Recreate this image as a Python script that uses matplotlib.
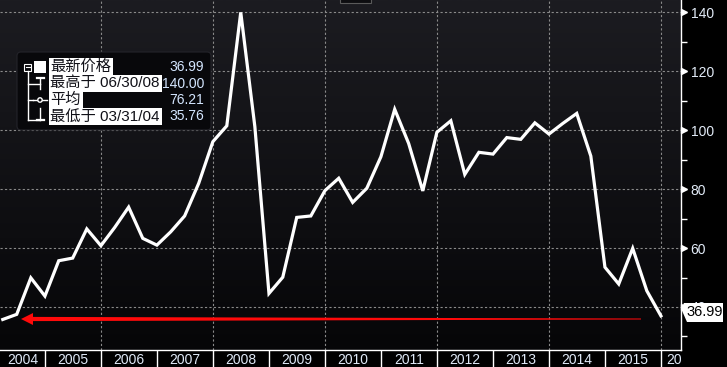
import numpy as np
import pandas as pd
import matplotlib
matplotlib.use("Agg")
import matplotlib.pyplot as plt
import matplotlib.dates as mdates
from matplotlib.colors import LinearSegmentedColormap
from matplotlib.patches import Polygon, Rectangle, FancyBboxPatch, Circle
from matplotlib.transforms import blended_transform_factory

plt.rcParams['font.family'] = ['Liberation Sans', 'Noto Sans CJK SC', 'DejaVu Sans']

# quarterly closes, Q1 2004 .. Q4 2015
quarters = pd.date_range("2004-03-31", periods=48, freq="QE")
prices = [35.76, 37.5, 49.9, 43.7,
          55.7, 56.6, 66.5, 60.8,
          67.0, 73.9, 63.3, 61.0,
          65.5, 70.9, 82.0, 96.1,
          101.5, 140.0, 101.2, 44.6,
          50.1, 70.4, 70.9, 79.5,
          83.7, 75.5, 80.3, 91.0,
          107.1, 95.5, 79.4, 99.3,
          103.2, 85.0, 92.5, 91.9,
          97.5, 96.9, 102.5, 98.7,
          102.3, 105.7, 91.2, 53.5,
          47.8, 59.9, 45.5, 36.99]

y_major = [40, 60, 80, 100, 120, 140]
y_minor = [30, 50, 70, 90, 110, 130]
years = list(range(2004, 2017))
grid_years = [2006, 2008, 2010, 2012, 2014, 2016]

legend_labels = ["最新价格", "最高于 06/30/08", "平均", "最低于 03/31/04"]
legend_values = ["36.99", "140.00", "76.21", "35.76"]
last_label = "36.99"

W, H = 727, 367
fig = plt.figure(figsize=(W / 100, H / 100), dpi=100, facecolor='black')
ax = fig.add_axes([0, 17 / H, 681 / W, 350 / H])

x0 = mdates.date2num(pd.Timestamp("2004-03-13"))
x1 = mdates.date2num(pd.Timestamp("2016-05-10"))

# background gradient
bg = LinearSegmentedColormap.from_list('bg', ['#060608', '#1c1c21'])
ax.imshow(np.linspace(0, 1, 256).reshape(-1, 1), extent=[0, 1, 0, 1], transform=ax.transAxes,
          cmap=bg, aspect='auto', origin='lower', zorder=0)

grid_c = '#8a8a8a'
for y in y_major:
    ax.axhline(y, color=grid_c, lw=0.8, dashes=(2, 2), zorder=1)
for gy in grid_years:
    ax.axvline(mdates.date2num(pd.Timestamp(f"{gy}-01-01")), color=grid_c, lw=0.8, dashes=(2, 2), zorder=1)

ax.plot(mdates.date2num(quarters), prices, color='white', lw=2.3, solid_joinstyle='miter', zorder=3)

ax.set_xlim(x0, x1)
ax.set_ylim(25.4, 144.2)
ax.set_xticks([])

for s in ['top', 'left']:
    ax.spines[s].set_visible(False)
for s in ['right', 'bottom']:
    ax.spines[s].set_color('white')
    ax.spines[s].set_linewidth(1)

ax.yaxis.tick_right()
ax.set_yticks(y_major)
ax.set_yticks(y_minor, minor=True)
ax.tick_params(axis='y', which='major', length=0, pad=7, labelcolor='#e2ebf7', labelsize=10)
ax.tick_params(axis='y', which='minor', length=4, width=1, color='white')
tr = blended_transform_factory(ax.transAxes, ax.transData)
ax.plot([1 + 3 / 681] * len(y_major), y_major, transform=tr, marker='>', ls='none',
        ms=4.5, color='white', clip_on=False, zorder=5)

# bottom year strip
axb = fig.add_axes([0, 0, 681 / W, 17 / H])
axb.set_xlim(x0, x1)
axb.set_ylim(0, 1)
axb.axis('off')
for yr in years:
    left = max(mdates.date2num(pd.Timestamp(f"{yr}-01-01")), x0)
    right = mdates.date2num(pd.Timestamp(f"{yr + 1}-01-01"))
    if yr == years[-1]:
        right = mdates.date2num(pd.Timestamp(f"{yr}-10-01"))
    if yr > years[0]:
        axb.axvline(left, color='white', lw=1)
    axb.text((left + right) / 2, 0.42, str(yr), ha='center', va='center',
             color='#dfe9f7', fontsize=10, clip_on=True)

# overlay in pixel coords for annotations
ov = fig.add_axes([0, 0, 1, 1])
ov.set_xlim(0, W)
ov.set_ylim(H, 0)
ov.axis('off')
ov.patch.set_alpha(0)

# little box at the top
ov.add_patch(Rectangle((340, -2), 31, 5, fc='#0d0d10', ec='#5a5a5a', lw=0.8))

# legend
ov.add_patch(FancyBboxPatch((17, 52), 194, 78, boxstyle='round,pad=0,rounding_size=4',
                            fc='#08080b', ec='#24242a', lw=0.8))
rows = [67, 83.5, 100, 116.5]
for lab, val, y in zip(legend_labels, legend_values, rows):
    ov.text(50.5, y, lab, ha='left', va='center', fontsize=11, color='#111118',
            bbox=dict(boxstyle='square,pad=0.1', fc='white', ec='none'))
    ov.text(204, y, val, ha='right', va='center', fontsize=10, color='#d4e6ff')

lw_ic = 1.0
ov.add_patch(Rectangle((24, 63.5), 7, 7, fc='none', ec='white', lw=0.8))
ov.plot([25.5, 29.5], [67, 67], color='white', lw=0.8)
ov.add_patch(Rectangle((34, 61), 11.5, 12, fc='white', ec='none'))
ov.plot([27.5, 27.5], [70.5, 119.5], color='white', lw=lw_ic)
ov.plot([27.5, 40], [83.5, 83.5], color='white', lw=lw_ic)
ov.plot([27.5, 33], [100, 100], color='white', lw=lw_ic)
ov.plot([27.5, 40], [119.5, 119.5], color='white', lw=lw_ic)
# max icon
ov.plot([40, 40], [78, 89], color='white', lw=lw_ic)
ov.plot([36.5, 43.5], [78, 78], color='white', lw=1.6)
# avg icon
ov.plot([33, 47], [100, 100], color='white', lw=lw_ic)
ov.add_patch(Circle((40, 100), 2.2, fc='#08080b', ec='white', lw=1.0, zorder=4))
# min icon
ov.plot([40, 40], [108, 119.5], color='white', lw=lw_ic)
ov.plot([36.5, 43.5], [119.5, 119.5], color='white', lw=1.6)

# red arrow pointing back to the 2004 low
ov.add_patch(Polygon([(21, 319), (33, 313), (33, 316.9), (641, 318.5), (641, 319.5),
                      (33, 321.1), (33, 325)], closed=True, fc='#ff0a0a', ec='none'))

# last price tag
ov.add_patch(Polygon([(684, 303), (723, 303), (723, 322), (687, 322), (681, 308.5)],
                     closed=True, fc='white', ec='none', zorder=6))
ov.text(704.5, 312.5, last_label, ha='center', va='center', fontsize=10.5, color='black', zorder=7)

fig.savefig('out.png', dpi=100, facecolor='black')
